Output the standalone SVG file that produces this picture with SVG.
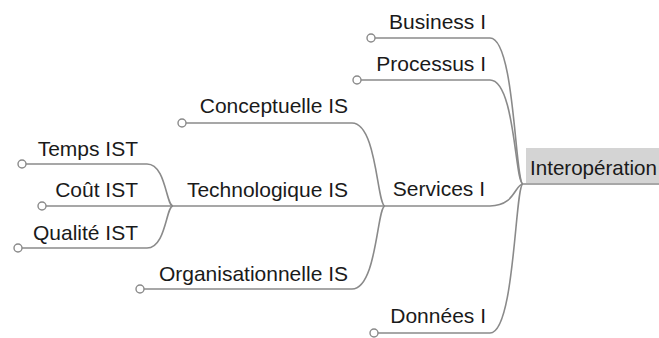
<svg xmlns="http://www.w3.org/2000/svg" width="659" height="338" viewBox="0 0 659 338">
  <style>
    .lbl { font-family: "Liberation Sans", Arial, sans-serif; font-size: 21px; fill: #1a1a1a; }
    .end { text-anchor: end; }
    .conn { fill: none; stroke: #8a8a8a; stroke-width: 1.6; }
    .dot { fill: #ffffff; stroke: #8a8a8a; stroke-width: 1.4; }
  </style>
  <rect width="659" height="338" fill="#ffffff"/>

  <g id="connectors">
    <!-- root children -->
    <path class="conn" d="M375,38 H490 C515,38 515,184 523,184"/>
    <path class="conn" d="M361,80 H490 C515,80 515,184 523,184"/>
    <path class="conn" d="M385,206 H490 C515,206 515,184 523,184"/>
    <path class="conn" d="M378,333 H490 C515,333 515,184 523,184"/>
    <!-- services children -->
    <path class="conn" d="M186,123 H352 C377,123 377,206 385,206"/>
    <path class="conn" d="M173,206 H385"/>
    <path class="conn" d="M144,289 H352 C377,289 377,206 385,206"/>
    <!-- technologique children -->
    <path class="conn" d="M26,164 H147 C166,164 166,206 173,206"/>
    <path class="conn" d="M46,206 H173"/>
    <path class="conn" d="M22,248 H147 C166,248 166,206 173,206"/>
    <!-- root underline -->
    <path class="conn" d="M523,184 H659"/>
  </g>

  <g id="node-interoperation">
    <rect x="526" y="148" width="140" height="35" fill="#d4d4d4"/>
    <text class="lbl" x="530" y="175" textLength="127" lengthAdjust="spacingAndGlyphs">Interopération</text>
  </g>

  <g id="node-business">
    <circle class="dot" cx="371" cy="38" r="4"/>
    <text class="lbl end" x="486" y="29">Business I</text>
  </g>
  <g id="node-processus">
    <circle class="dot" cx="357" cy="80" r="4"/>
    <text class="lbl end" x="486" y="71">Processus I</text>
  </g>
  <g id="node-services">
    <text class="lbl end" x="485" y="196">Services I</text>
  </g>
  <g id="node-donnees">
    <circle class="dot" cx="374" cy="333" r="4"/>
    <text class="lbl end" x="486" y="323">Données I</text>
  </g>

  <g id="node-conceptuelle">
    <circle class="dot" cx="182" cy="123" r="4"/>
    <text class="lbl end" x="348" y="113">Conceptuelle IS</text>
  </g>
  <g id="node-technologique">
    <text class="lbl end" x="348" y="197">Technologique IS</text>
  </g>
  <g id="node-organisationnelle">
    <circle class="dot" cx="140" cy="289" r="4"/>
    <text class="lbl end" x="348" y="281">Organisationnelle IS</text>
  </g>

  <g id="node-temps">
    <circle class="dot" cx="22" cy="164" r="4"/>
    <text class="lbl end" x="138" y="156">Temps IST</text>
  </g>
  <g id="node-cout">
    <circle class="dot" cx="42" cy="206" r="4"/>
    <text class="lbl end" x="138" y="197">Coût IST</text>
  </g>
  <g id="node-qualite">
    <circle class="dot" cx="18" cy="248" r="4"/>
    <text class="lbl end" x="138" y="240">Qualité IST</text>
  </g>
</svg>
